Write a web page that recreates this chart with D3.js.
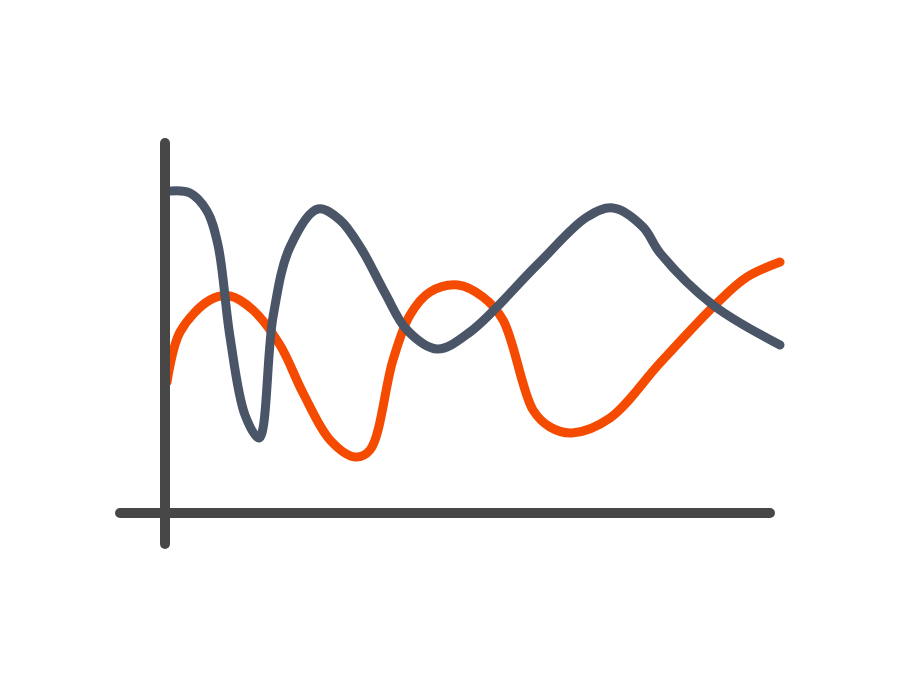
<!DOCTYPE html>
<html>
<head>
<meta charset="utf-8">
<script src="https://cdn.jsdelivr.net/npm/d3@7"></script>
<style>
  body { margin: 0; background: #fff; }
</style>
</head>
<body>
<script>
var width = 900;
var height = 684;
var axisColor = "#474747";

// series values (x, y) in chart units
var orangeX = [0.4, 3, 9, 13, 17.6, 23, 27.6, 33, 38, 41, 45.6, 49, 53, 58.6, 63.6, 67.6, 73.6, 77, 81.4, 89, 99, 110.4, 116.4, 123];
var orangeY = [26.2, 36.2, 42.6, 43.4, 40.6, 33.6, 24, 14.6, 11.2, 12.6, 30.6, 39.6, 44.2, 45.6, 43.2, 38.6, 20.6, 17.2, 16, 19, 30, 42, 47.2, 50.2];

var grayX = [1.2, 5, 8.4, 10.6, 13, 16, 18.8, 21.6, 25, 30.6, 35, 39.4, 44, 48.4, 54.4, 61, 74.4, 84.4, 89.6, 95.6, 99, 109.6, 123];
var grayY = [64.4, 64, 60.4, 53.6, 35.2, 19.6, 15, 39.2, 53.2, 60.8, 58.6, 52.6, 44, 36.6, 32.8, 36.2, 49.6, 59.2, 61, 57.2, 52, 41.6, 33.6];

var svg = d3.select('body').append('svg')
    .attr('width', width)
    .attr('height', height);

var x = d3.scaleLinear().domain([0, 123]).range([165, 780]);
var y = d3.scaleLinear().domain([0, 74]).range([513, 143]);

var line = d3.line()
    .x(function(d) { return x(d[0]); })
    .y(function(d) { return y(d[1]); })
    .curve(d3.curveCatmullRom.alpha(0.5));

// orange series
svg.append('path')
    .attr('d', line(d3.zip(orangeX, orangeY)))
    .attr('fill', 'none')
    .attr('stroke', '#f54b00')
    .attr('stroke-width', 9)
    .attr('stroke-linecap', 'round')
    .attr('stroke-linejoin', 'round');

// gray series
svg.append('path')
    .attr('d', line(d3.zip(grayX, grayY)))
    .attr('fill', 'none')
    .attr('stroke', '#4a5568')
    .attr('stroke-width', 9)
    .attr('stroke-linecap', 'round')
    .attr('stroke-linejoin', 'round');

// axes drawn on top
svg.append('line')
    .attr('x1', x(0)).attr('x2', x(0))
    .attr('y1', y(74)).attr('y2', y(-6.2))
    .attr('stroke', axisColor)
    .attr('stroke-width', 10)
    .attr('stroke-linecap', 'round');

svg.append('line')
    .attr('x1', x(-9)).attr('x2', x(121))
    .attr('y1', y(0)).attr('y2', y(0))
    .attr('stroke', axisColor)
    .attr('stroke-width', 10)
    .attr('stroke-linecap', 'round');
</script>
</body>
</html>
